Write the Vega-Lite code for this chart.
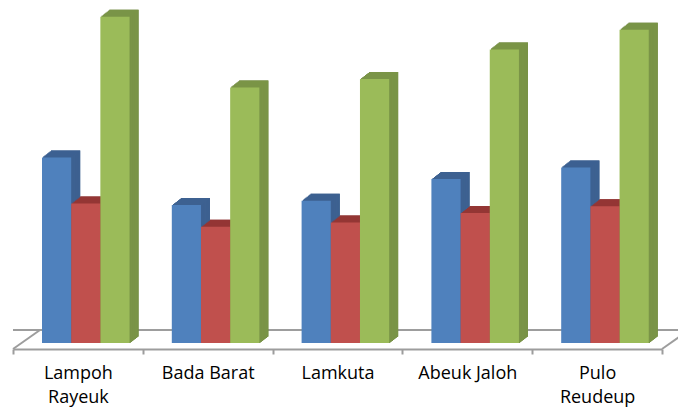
{
  "$schema": "https://vega.github.io/schema/vega-lite/v6.json",
  "width": 649,
  "height": 349,
  "autosize": {"type": "none"},
  "padding": {"left": 13, "top": 0, "right": 16, "bottom": 63},
  "background": "white",
  "config": {"view": {"stroke": null}},
  "data": {"values": [
    {"kategori": "Lampoh Rayeuk", "seri": "Laki-laki", "nilai": 54.1},
    {"kategori": "Lampoh Rayeuk", "seri": "Perempuan", "nilai": 40.7},
    {"kategori": "Lampoh Rayeuk", "seri": "Jumlah", "nilai": 95.1},
    {"kategori": "Bada Barat", "seri": "Laki-laki", "nilai": 40.2},
    {"kategori": "Bada Barat", "seri": "Perempuan", "nilai": 33.9},
    {"kategori": "Bada Barat", "seri": "Jumlah", "nilai": 74.5},
    {"kategori": "Lamkuta", "seri": "Laki-laki", "nilai": 41.5},
    {"kategori": "Lamkuta", "seri": "Perempuan", "nilai": 35.1},
    {"kategori": "Lamkuta", "seri": "Jumlah", "nilai": 77.0},
    {"kategori": "Abeuk Jaloh", "seri": "Laki-laki", "nilai": 47.8},
    {"kategori": "Abeuk Jaloh", "seri": "Perempuan", "nilai": 37.9},
    {"kategori": "Abeuk Jaloh", "seri": "Jumlah", "nilai": 85.6},
    {"kategori": "Pulo Reudeup", "seri": "Laki-laki", "nilai": 51.2},
    {"kategori": "Pulo Reudeup", "seri": "Perempuan", "nilai": 39.9},
    {"kategori": "Pulo Reudeup", "seri": "Jumlah", "nilai": 91.3}
  ]},
  "layer": [
    {
      "data": {"values": [{}]},
      "mark": {"type": "rule", "color": "#9d9d9d", "strokeWidth": 2, "xOffset": 27, "x2Offset": 27},
      "encoding": {"y": {"datum": 3.79, "type": "quantitative", "scale": {"domain": [-1.75, 100], "nice": false}, "axis": null}}
    },
    {
      "data": {"values": [{}]},
      "mark": {"type": "rule", "color": "#9d9d9d", "strokeWidth": 2, "x2Offset": 27},
      "encoding": {
        "x": {"datum": "Lampoh Rayeuk", "type": "nominal", "bandPosition": 0},
        "x2": {"datum": "Lampoh Rayeuk", "bandPosition": 0},
        "y": {"datum": -1.75, "type": "quantitative"},
        "y2": {"datum": 3.79}
      }
    },
    {
      "data": {"values": [{}]},
      "mark": {"type": "rule", "color": "#9d9d9d", "strokeWidth": 2, "x2Offset": 27},
      "encoding": {
        "x": {"datum": "Pulo Reudeup", "type": "nominal", "bandPosition": 1},
        "x2": {"datum": "Pulo Reudeup", "bandPosition": 1},
        "y": {"datum": -1.75, "type": "quantitative"},
        "y2": {"datum": 3.79}
      }
    },
    {
      "resolve": {"scale": {"xOffset": "independent"}},
      "encoding": {
        "x": {
          "field": "kategori", "type": "nominal",
          "scale": {"domain": ["Lampoh Rayeuk", "Bada Barat", "Lamkuta", "Abeuk Jaloh", "Pulo Reudeup"], "paddingInner": 0, "paddingOuter": 0},
          "axis": {
            "title": null, "labelAngle": 0, "labelAlign": "center", "domainColor": "#9d9d9d", "domainWidth": 2,
            "tickColor": "#9d9d9d", "tickWidth": 2, "tickSize": 5, "tickBand": "extent",
            "labelFont": "Open Sans", "labelFontSize": 18, "labelColor": "#000000",
            "labelPadding": 19, "labelLineHeight": 24,
            "labelExpr": "datum.label == 'Lampoh Rayeuk' || datum.label == 'Pulo Reudeup' ? split(datum.label, ' ') : datum.label"
          }
        },
        "y": {"field": "nilai", "type": "quantitative"},
        "y2": {"datum": 0}
      },
      "layer": [
        {"mark": {"type": "bar", "yOffset": -7, "y2Offset": -7}, "encoding": {"xOffset": {"field": "seri", "type": "nominal", "scale": {"domain": ["Laki-laki", "Perempuan", "Jumlah"], "paddingInner": 0, "paddingOuter": 0.724, "align": 0.8994}}, "color": {"condition": [{"test": "datum.seri === 'Laki-laki'", "value": "#385d8a"}, {"test": "datum.seri === 'Perempuan'", "value": "#8c3836"}], "value": "#687e3a"}}},
        {"mark": {"type": "bar", "yOffset": -6, "y2Offset": -6}, "encoding": {"xOffset": {"field": "seri", "type": "nominal", "scale": {"domain": ["Laki-laki", "Perempuan", "Jumlah"], "paddingInner": 0, "paddingOuter": 0.724, "align": 0.8689}}, "color": {"condition": [{"test": "datum.seri === 'Laki-laki'", "value": "#385d8a"}, {"test": "datum.seri === 'Perempuan'", "value": "#8c3836"}], "value": "#687e3a"}}},
        {"mark": {"type": "bar", "yOffset": -5, "y2Offset": -5}, "encoding": {"xOffset": {"field": "seri", "type": "nominal", "scale": {"domain": ["Laki-laki", "Perempuan", "Jumlah"], "paddingInner": 0, "paddingOuter": 0.724, "align": 0.8386}}, "color": {"condition": [{"test": "datum.seri === 'Laki-laki'", "value": "#385d8a"}, {"test": "datum.seri === 'Perempuan'", "value": "#8c3836"}], "value": "#687e3a"}}},
        {"mark": {"type": "bar", "yOffset": -4, "y2Offset": -4}, "encoding": {"xOffset": {"field": "seri", "type": "nominal", "scale": {"domain": ["Laki-laki", "Perempuan", "Jumlah"], "paddingInner": 0, "paddingOuter": 0.724, "align": 0.8081}}, "color": {"condition": [{"test": "datum.seri === 'Laki-laki'", "value": "#385d8a"}, {"test": "datum.seri === 'Perempuan'", "value": "#8c3836"}], "value": "#687e3a"}}},
        {"mark": {"type": "bar", "yOffset": -3, "y2Offset": -3}, "encoding": {"xOffset": {"field": "seri", "type": "nominal", "scale": {"domain": ["Laki-laki", "Perempuan", "Jumlah"], "paddingInner": 0, "paddingOuter": 0.724, "align": 0.7777}}, "color": {"condition": [{"test": "datum.seri === 'Laki-laki'", "value": "#385d8a"}, {"test": "datum.seri === 'Perempuan'", "value": "#8c3836"}], "value": "#687e3a"}}},
        {"mark": {"type": "bar", "yOffset": -2, "y2Offset": -2}, "encoding": {"xOffset": {"field": "seri", "type": "nominal", "scale": {"domain": ["Laki-laki", "Perempuan", "Jumlah"], "paddingInner": 0, "paddingOuter": 0.724, "align": 0.7472}}, "color": {"condition": [{"test": "datum.seri === 'Laki-laki'", "value": "#385d8a"}, {"test": "datum.seri === 'Perempuan'", "value": "#8c3836"}], "value": "#687e3a"}}},
        {"mark": {"type": "bar", "yOffset": -1, "y2Offset": -1}, "encoding": {"xOffset": {"field": "seri", "type": "nominal", "scale": {"domain": ["Laki-laki", "Perempuan", "Jumlah"], "paddingInner": 0, "paddingOuter": 0.724, "align": 0.7169}}, "color": {"condition": [{"test": "datum.seri === 'Laki-laki'", "value": "#385d8a"}, {"test": "datum.seri === 'Perempuan'", "value": "#8c3836"}], "value": "#687e3a"}}},
        {"mark": {"type": "bar", "yOffset": -7, "y2Offset": -6}, "encoding": {"y2": {"field": "nilai"}, "xOffset": {"field": "seri", "type": "nominal", "scale": {"domain": ["Laki-laki", "Perempuan", "Jumlah"], "paddingInner": 0, "paddingOuter": 0.724, "align": 0.8994}}, "color": {"condition": [{"test": "datum.seri === 'Laki-laki'", "value": "#3d6191"}, {"test": "datum.seri === 'Perempuan'", "value": "#943634"}], "value": "#7a9447"}}},
        {"mark": {"type": "bar", "yOffset": -6, "y2Offset": -5}, "encoding": {"y2": {"field": "nilai"}, "xOffset": {"field": "seri", "type": "nominal", "scale": {"domain": ["Laki-laki", "Perempuan", "Jumlah"], "paddingInner": 0, "paddingOuter": 0.724, "align": 0.8689}}, "color": {"condition": [{"test": "datum.seri === 'Laki-laki'", "value": "#3d6191"}, {"test": "datum.seri === 'Perempuan'", "value": "#943634"}], "value": "#7a9447"}}},
        {"mark": {"type": "bar", "yOffset": -5, "y2Offset": -4}, "encoding": {"y2": {"field": "nilai"}, "xOffset": {"field": "seri", "type": "nominal", "scale": {"domain": ["Laki-laki", "Perempuan", "Jumlah"], "paddingInner": 0, "paddingOuter": 0.724, "align": 0.8386}}, "color": {"condition": [{"test": "datum.seri === 'Laki-laki'", "value": "#3d6191"}, {"test": "datum.seri === 'Perempuan'", "value": "#943634"}], "value": "#7a9447"}}},
        {"mark": {"type": "bar", "yOffset": -4, "y2Offset": -3}, "encoding": {"y2": {"field": "nilai"}, "xOffset": {"field": "seri", "type": "nominal", "scale": {"domain": ["Laki-laki", "Perempuan", "Jumlah"], "paddingInner": 0, "paddingOuter": 0.724, "align": 0.8081}}, "color": {"condition": [{"test": "datum.seri === 'Laki-laki'", "value": "#3d6191"}, {"test": "datum.seri === 'Perempuan'", "value": "#943634"}], "value": "#7a9447"}}},
        {"mark": {"type": "bar", "yOffset": -3, "y2Offset": -2}, "encoding": {"y2": {"field": "nilai"}, "xOffset": {"field": "seri", "type": "nominal", "scale": {"domain": ["Laki-laki", "Perempuan", "Jumlah"], "paddingInner": 0, "paddingOuter": 0.724, "align": 0.7777}}, "color": {"condition": [{"test": "datum.seri === 'Laki-laki'", "value": "#3d6191"}, {"test": "datum.seri === 'Perempuan'", "value": "#943634"}], "value": "#7a9447"}}},
        {"mark": {"type": "bar", "yOffset": -2, "y2Offset": -1}, "encoding": {"y2": {"field": "nilai"}, "xOffset": {"field": "seri", "type": "nominal", "scale": {"domain": ["Laki-laki", "Perempuan", "Jumlah"], "paddingInner": 0, "paddingOuter": 0.724, "align": 0.7472}}, "color": {"condition": [{"test": "datum.seri === 'Laki-laki'", "value": "#3d6191"}, {"test": "datum.seri === 'Perempuan'", "value": "#943634"}], "value": "#7a9447"}}},
        {"mark": {"type": "bar", "yOffset": -1, "y2Offset": 0}, "encoding": {"y2": {"field": "nilai"}, "xOffset": {"field": "seri", "type": "nominal", "scale": {"domain": ["Laki-laki", "Perempuan", "Jumlah"], "paddingInner": 0, "paddingOuter": 0.724, "align": 0.7169}}, "color": {"condition": [{"test": "datum.seri === 'Laki-laki'", "value": "#3d6191"}, {"test": "datum.seri === 'Perempuan'", "value": "#943634"}], "value": "#7a9447"}}},
        {"mark": {"type": "bar"}, "encoding": {"xOffset": {"field": "seri", "type": "nominal", "scale": {"domain": ["Laki-laki", "Perempuan", "Jumlah"], "paddingInner": 0, "paddingOuter": 0.724, "align": 0.6864}}, "color": {"condition": [{"test": "datum.seri === 'Laki-laki'", "value": "#4f81bd"}, {"test": "datum.seri === 'Perempuan'", "value": "#c0504d"}], "value": "#9bbb59"}}}
      ]
    }
  ]
}
